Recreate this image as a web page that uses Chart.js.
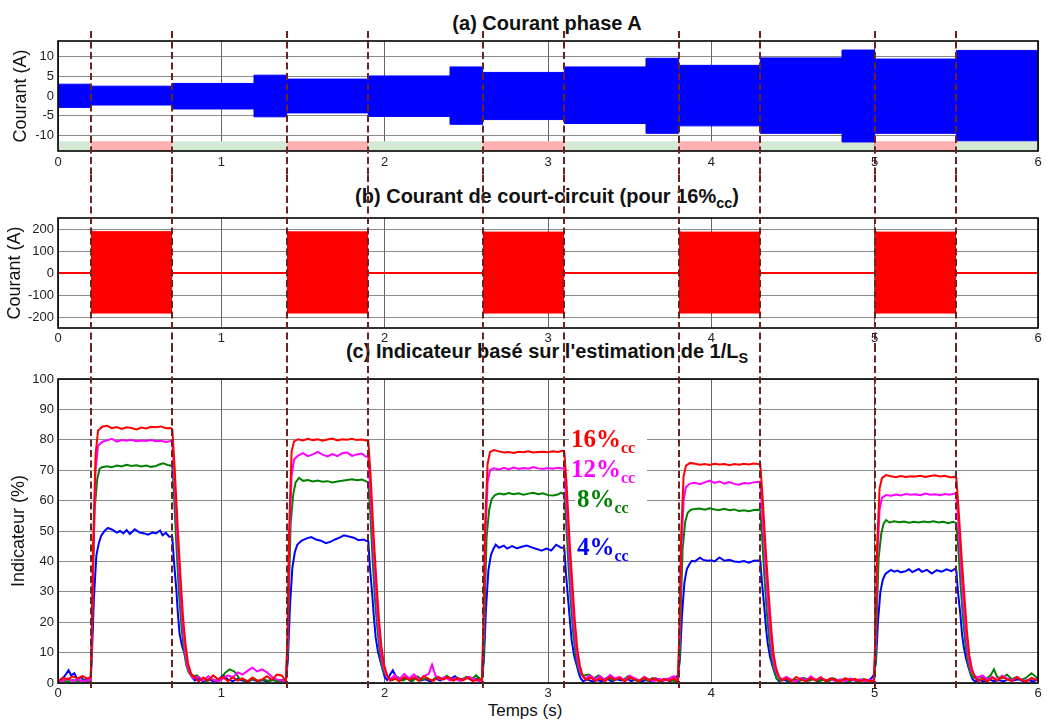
<!DOCTYPE html>
<html>
<head>
<meta charset="utf-8">
<title>Courant et indicateur de court-circuit</title>
<script src="https://cdn.jsdelivr.net/npm/chart.js@4.4.0/dist/chart.umd.min.js"></script>
<style>
  body { margin: 0; background: #fff; width: 1047px; height: 721px; position: relative; overflow: hidden; font-family: "Liberation Sans", Arial, sans-serif; }
  canvas { position: absolute; left: 0; z-index: 1; }
  .ptitle { position: absolute; left: 0; width: 1094px; text-align: center; font-weight: bold; font-size: 20px; line-height: 22px; color: #111; white-space: nowrap; z-index: 0; }
  .ptitle sub { font-size: 0.72em; line-height: 0; }
  .xtitle { position: absolute; left: 425px; width: 200px; top: 700px; text-align: center; font-size: 17px; line-height: 22px; color: #111; white-space: nowrap; z-index: 0; }
  .lbl { position: absolute; left: 569px; width: 76px; height: 30px; background: #fff; font-family: "Liberation Serif", "Times New Roman", serif; font-weight: bold; font-size: 25px; line-height: 30px; white-space: nowrap; z-index: 2; padding-left: 2px; }
  .lbl sub { font-size: 16px; line-height: 0; }
</style>
</head>
<body>
<div class="ptitle" style="top:12px">(a) Courant phase A</div>
<div class="ptitle" style="top:185px">(b) Courant de court-circuit (pour 16%<sub>cc</sub>)</div>
<div class="ptitle" style="top:340px">(c) Indicateur basé sur l'estimation de 1/L<sub>S</sub></div>
<div class="xtitle">Temps (s)</div>

<canvas id="chartA" width="1047" height="175" style="top:0px"></canvas>
<canvas id="chartB" width="1047" height="170" style="top:175px"></canvas>
<canvas id="chartC" width="1047" height="376" style="top:345px"></canvas>

<div class="lbl" style="top:424px; color:#ff0000">16%<sub>cc</sub></div>
<div class="lbl" style="top:454px; color:#ff00ff">12%<sub>cc</sub></div>
<div class="lbl" style="top:484px; color:#008000; left:575px; width:70px">8%<sub>cc</sub></div>
<div class="lbl" style="top:533px; color:#0000ff; left:575px; width:70px; height:28px; line-height:28px">4%<sub>cc</sub></div>

<script>
// intervalles de court-circuit (s)
const faultStart = [0.2, 1.4, 2.6, 3.8, 5.0];
const faultEnd = [0.7, 1.9, 3.1, 4.3, 5.5];

const xTicks = [0, 1, 2, 3, 4, 5, 6];
const ticksA = [-10, -5, 0, 5, 10];
const ticksB = [-200, -100, 0, 100, 200];
const ticksC = [0, 10, 20, 30, 40, 50, 60, 70, 80, 90, 100];

// (a) enveloppe du courant phase A par palier de charge
const phaseEdges = [0, 0.2, 0.7, 1.2, 1.4, 1.9, 2.4, 2.6, 3.1, 3.6, 3.8, 4.3, 4.8, 5.0, 5.5, 6.0];
const phaseHigh = [3.0, 2.5, 3.2, 5.3, 4.3, 5.1, 7.4, 6.0, 7.4, 9.6, 7.8, 9.7, 11.7, 9.4, 11.6];
const phaseLow = [-2.9, -2.3, -3.3, -5.3, -4.3, -5.2, -7.2, -6.0, -7.0, -9.5, -7.6, -9.5, -11.7, -9.5, -11.4];
const bandTop = -11.5;

// (b) enveloppe du courant de court-circuit
const scPeak = [204, 198, 196, 196, 196];
const scHigh = [188, 187, 186, 186, 186];
const scLow = [-182, -182, -182, -182, -182];

// (c) indicateur (%) : [temps, valeur]
const ind16 = [
  [0,0.5],[0.03,1.8],[0.06,1.2],[0.09,2.2],[0.12,1.5],[0.15,2.3],[0.18,1.4],[0.2,2.0],
  [0.205,10],[0.215,45],[0.23,75],[0.245,83],[0.27,84.3],
  [0.3,84.6],[0.33,83.8],[0.36,84.2],[0.39,83.6],[0.42,84.1],[0.45,83.9],[0.48,83.4],[0.51,84],[0.54,83.7],[0.57,84.3],[0.6,84.1],[0.63,84.4],[0.66,83.8],[0.69,83.9],[0.7,83.5],
  [0.714,71],[0.734,50],[0.75,35],[0.765,22],[0.78,13],[0.796,6.5],[0.815,3],[0.837,2],
  [0.86,0.5],[0.89,1.8],[0.92,0.8],[0.95,2.5],[0.98,1.2],[1.01,2.0],[1.04,0.6],[1.07,1.9],[1.1,0.8],[1.13,1.5],[1.16,0.5],[1.19,1.8],[1.22,0.7],[1.25,1.2],[1.28,2.2],[1.31,1.0],[1.34,2.8],[1.37,2.5],[1.395,0.5],
  [1.405,15],[1.415,50],[1.43,76],[1.445,79.5],[1.47,80.2],
  [1.5,79.8],[1.53,80.3],[1.56,79.9],[1.59,80.2],[1.62,79.7],[1.65,80.1],[1.68,80.4],[1.71,79.8],[1.74,80.2],[1.77,80],[1.8,80.3],[1.83,79.9],[1.86,80.1],[1.9,79.6],
  [1.914,68],[1.934,47],[1.95,33],[1.965,21],[1.98,12],[1.996,6],[2.015,2.5],[2.035,0.8],
  [2.06,1.5],[2.09,0.6],[2.12,2.0],[2.15,1.0],[2.18,1.8],[2.21,0.7],[2.24,2.3],[2.27,1.2],[2.3,0.8],[2.33,1.9],[2.36,1.1],[2.39,2.0],[2.42,0.7],[2.45,1.6],[2.48,0.9],[2.51,1.8],[2.54,0.6],[2.57,1.2],[2.595,0.8],
  [2.605,20],[2.615,52],[2.63,72],[2.645,76],[2.67,76.6],
  [2.7,76.2],[2.73,75.8],[2.76,76],[2.79,75.7],[2.82,76.1],[2.85,75.9],[2.88,76.2],[2.91,75.8],[2.94,76],[2.97,76.1],[3.0,75.9],[3.03,76.2],[3.06,76],[3.09,76.4],[3.1,76],
  [3.114,65],[3.134,45],[3.15,32],[3.165,20],[3.18,11],[3.196,5.5],[3.215,2],[3.235,1],
  [3.26,1.8],[3.29,0.7],[3.32,1.5],[3.35,0.6],[3.38,2.0],[3.41,1.0],[3.44,1.7],[3.47,0.5],[3.5,1.9],[3.53,1.2],[3.56,0.6],[3.59,1.8],[3.62,0.8],[3.65,1.5],[3.68,0.5],[3.71,1.4],[3.74,0.7],[3.77,1.6],[3.795,0.5],
  [3.805,18],[3.815,48],[3.83,68],[3.845,71.5],[3.87,72.4],
  [3.9,72.1],[3.93,71.8],[3.96,72],[3.99,71.7],[4.02,72.1],[4.05,71.9],[4.08,72],[4.11,71.6],[4.14,72],[4.17,71.8],[4.2,72.1],[4.23,71.9],[4.26,72.2],[4.29,72],[4.3,71.8],
  [4.314,61],[4.334,43],[4.35,30],[4.365,19],[4.38,10],[4.396,5],[4.415,2],[4.435,0.8],
  [4.46,1.6],[4.49,0.6],[4.52,2.0],[4.55,1.1],[4.58,0.5],[4.61,1.7],[4.64,0.8],[4.67,1.9],[4.7,0.6],[4.73,1.5],[4.76,1.0],[4.79,0.5],[4.82,1.6],[4.85,0.9],[4.88,1.4],[4.91,0.5],[4.94,1.2],[4.97,0.6],[4.995,0.8],
  [5.005,16],[5.015,45],[5.03,64],[5.045,67.5],[5.07,68.4],
  [5.1,68],[5.13,67.7],[5.16,68.1],[5.19,67.8],[5.22,68],[5.25,67.9],[5.28,68.2],[5.31,67.8],[5.34,68.1],[5.37,68.3],[5.4,67.9],[5.43,68.2],[5.46,67.7],[5.49,67.8],[5.5,67.5],
  [5.514,57],[5.534,40],[5.55,28],[5.565,17],[5.58,9],[5.596,4.5],[5.615,1.8],[5.635,0.6],
  [5.66,1.5],[5.69,0.5],[5.72,1.8],[5.75,0.8],[5.78,2.0],[5.81,1.2],[5.84,0.6],[5.87,1.9],[5.9,1.0],[5.93,0.5],[5.96,1.7],[6,0.8]
];

const ind12 = [
  [0,0.3],[0.03,0.8],[0.06,1.5],[0.09,0.6],[0.12,1.2],[0.15,0.5],[0.18,1.0],[0.2,0.8],
  [0.205,8],[0.215,40],[0.23,70],[0.245,78],[0.27,79.3],
  [0.3,79.8],[0.33,80.3],[0.36,79.4],[0.39,79.9],[0.42,79.7],[0.45,80],[0.48,79.5],[0.51,79.8],[0.54,79.6],[0.57,79.9],[0.6,79.5],[0.63,79.7],[0.66,79.3],[0.69,79.6],[0.7,79.4],
  [0.712,68],[0.73,48],[0.745,33],[0.76,21],[0.775,12],[0.79,6],[0.81,3],[0.83,1.5],
  [0.86,2.0],[0.89,0.8],[0.92,2.2],[0.95,1.0],[0.98,0.5],[1.01,1.5],[1.04,2.5],[1.07,1.8],[1.1,3.5],[1.13,2.8],[1.16,4.0],[1.19,5.0],[1.22,3.8],[1.25,4.5],[1.28,3.5],[1.31,2.0],[1.34,1.2],[1.37,0.8],[1.395,0.6],
  [1.405,12],[1.415,45],[1.43,68],[1.445,73.5],[1.47,74.8],
  [1.5,75.6],[1.53,74.6],[1.56,75.2],[1.59,76],[1.62,75.1],[1.65,74.5],[1.68,75.3],[1.71,74.6],[1.74,75.6],[1.77,75.8],[1.8,74.7],[1.83,75.2],[1.86,75.5],[1.88,74.6],[1.9,74.3],
  [1.912,64],[1.93,45],[1.945,31],[1.96,19],[1.975,11],[1.99,5.5],[2.01,2.5],[2.03,1.0],
  [2.06,2.5],[2.09,1.2],[2.12,3.0],[2.15,1.5],[2.18,2.8],[2.21,1.0],[2.24,2.2],[2.27,3.0],[2.29,6.0],[2.31,2.5],[2.34,1.2],[2.37,2.0],[2.4,0.8],[2.43,1.6],[2.46,0.7],[2.49,1.4],[2.52,2.0],[2.55,1.0],[2.595,0.5],
  [2.605,15],[2.615,46],[2.63,66],[2.645,70],[2.67,70.6],
  [2.7,70.2],[2.73,70.8],[2.76,70.3],[2.79,70.9],[2.82,70.4],[2.85,70.7],[2.88,70.5],[2.91,71],[2.94,70.6],[2.97,70.4],[3.0,70.7],[3.03,70.5],[3.06,70.8],[3.09,70.6],[3.1,70.4],
  [3.112,60],[3.13,42],[3.145,29],[3.16,18],[3.175,10],[3.19,5],[3.21,2.5],[3.23,1.5],
  [3.26,2.5],[3.29,1.2],[3.32,2.2],[3.35,1.0],[3.38,2.6],[3.41,1.5],[3.44,2.0],[3.47,0.8],[3.5,2.4],[3.53,1.6],[3.56,0.8],[3.59,2.0],[3.62,1.2],[3.65,0.6],[3.68,1.4],[3.71,0.8],[3.74,1.5],[3.77,2.2],[3.795,0.6],
  [3.805,14],[3.815,42],[3.83,60],[3.845,64.5],[3.87,65.6],
  [3.9,65.9],[3.93,65.4],[3.96,66],[3.99,66.6],[4.02,65.8],[4.05,66.3],[4.08,65.6],[4.11,66.1],[4.14,65.5],[4.17,65.2],[4.2,65.8],[4.23,65.6],[4.26,66],[4.29,66.2],[4.3,66],
  [4.312,56],[4.33,40],[4.345,27],[4.36,17],[4.375,9],[4.39,4.5],[4.41,2.2],[4.43,1.2],
  [4.46,2.0],[4.49,1.0],[4.52,0.6],[4.55,1.6],[4.58,0.8],[4.61,2.2],[4.64,1.0],[4.67,1.8],[4.7,0.8],[4.73,1.4],[4.76,0.6],[4.79,1.2],[4.82,0.5],[4.85,1.5],[4.88,0.8],[4.91,1.2],[4.94,0.5],[4.97,1.0],[4.995,0.6],
  [5.005,12],[5.015,40],[5.03,57],[5.045,61],[5.07,61.8],
  [5.1,61.6],[5.13,62],[5.16,61.7],[5.19,62.2],[5.22,61.9],[5.25,62.1],[5.28,61.8],[5.31,62.3],[5.34,61.9],[5.37,62.1],[5.4,61.8],[5.43,62.2],[5.46,61.9],[5.49,62.3],[5.5,62],
  [5.512,53],[5.53,37],[5.545,25],[5.56,15],[5.575,8],[5.59,4],[5.61,2.5],[5.63,1.8],
  [5.66,2.5],[5.69,1.2],[5.72,2.0],[5.75,1.0],[5.78,2.4],[5.81,1.5],[5.84,0.8],[5.87,1.9],[5.9,1.0],[5.93,0.6],[5.96,1.5],[6,1.0]
];

const ind8 = [
  [0,0.4],[0.03,0.8],[0.06,0.5],[0.09,1.0],[0.12,0.6],[0.15,0.9],[0.18,0.5],[0.2,0.7],
  [0.207,10],[0.215,35],[0.224,57],[0.24,67],[0.255,70.5],[0.27,71],
  [0.3,71.3],[0.33,71],[0.36,71.5],[0.39,71.2],[0.42,71.8],[0.45,71.4],[0.48,71.6],[0.51,71.2],[0.54,71.5],[0.57,71.1],[0.6,71.4],[0.62,71.9],[0.645,72.3],[0.67,71.7],[0.7,71.4],
  [0.71,62],[0.725,45],[0.74,30],[0.755,19],[0.77,11],[0.785,6],[0.8,3.5],[0.82,2],
  [0.85,2.5],[0.88,1.2],[0.91,0.6],[0.94,1.4],[0.97,0.5],[1.0,1.0],[1.02,3.2],[1.05,4.5],[1.08,3.8],[1.11,1.5],[1.14,1.0],[1.17,0.6],[1.2,1.5],[1.23,0.5],[1.26,1.2],[1.29,0.6],[1.32,1.0],[1.35,0.5],[1.395,0.8],
  [1.407,10],[1.415,32],[1.424,52],[1.44,62],[1.455,66],[1.475,67.5],
  [1.5,66.5],[1.53,66.8],[1.56,66.3],[1.59,66.6],[1.62,66.2],[1.65,66.4],[1.68,66],[1.71,66.3],[1.74,66.5],[1.77,66.8],[1.8,67],[1.83,66.7],[1.86,66.9],[1.88,66.5],[1.9,66],
  [1.91,58],[1.925,42],[1.94,28],[1.955,18],[1.97,10],[1.985,5],[2.0,3],[2.02,2],
  [2.05,1.0],[2.08,2.0],[2.11,0.8],[2.14,1.5],[2.17,0.6],[2.2,2.2],[2.23,1.0],[2.26,1.6],[2.29,0.8],[2.32,2.0],[2.35,1.2],[2.38,2.4],[2.41,1.0],[2.44,1.8],[2.47,0.8],[2.5,2.0],[2.53,1.2],[2.56,2.5],[2.595,0.8],
  [2.607,9],[2.615,30],[2.624,48],[2.64,57],[2.655,60.5],[2.675,61.8],
  [2.7,62.3],[2.73,62],[2.76,62.5],[2.79,62.1],[2.82,62.4],[2.85,61.9],[2.88,62.3],[2.91,62.6],[2.94,62.1],[2.97,62.4],[3.0,61.8],[3.03,61.7],[3.06,62],[3.08,62.6],[3.1,62],
  [3.11,54],[3.125,39],[3.14,26],[3.155,16],[3.17,9],[3.185,5],[3.2,3],[3.22,2.5],
  [3.25,2.8],[3.28,1.5],[3.31,2.5],[3.34,1.2],[3.37,2.0],[3.4,0.8],[3.43,1.8],[3.46,1.0],[3.49,2.2],[3.52,1.2],[3.55,0.6],[3.58,1.5],[3.61,0.8],[3.64,1.6],[3.67,1.0],[3.7,0.6],[3.73,1.4],[3.76,0.8],[3.795,0.5],
  [3.807,9],[3.815,28],[3.824,44],[3.84,53],[3.855,56],[3.875,57],
  [3.9,57.2],[3.93,57.4],[3.96,57],[3.99,57.5],[4.02,57.1],[4.05,56.9],[4.08,57.3],[4.11,56.8],[4.14,57.1],[4.17,56.6],[4.2,56.8],[4.23,56.5],[4.26,56.9],[4.29,57],[4.3,56.7],
  [4.31,49],[4.325,35],[4.34,23],[4.355,14],[4.37,8],[4.385,4],[4.4,1.5],[4.42,0.8],
  [4.45,1.5],[4.48,0.5],[4.51,1.2],[4.54,0.6],[4.57,1.6],[4.6,0.8],[4.63,1.4],[4.66,0.5],[4.69,1.2],[4.72,0.6],[4.75,1.5],[4.78,0.8],[4.81,1.2],[4.84,0.5],[4.87,1.0],[4.9,0.6],[4.93,1.3],[4.96,0.7],[4.995,0.5],
  [5.007,8],[5.015,26],[5.024,41],[5.04,49],[5.055,52.5],[5.07,53.6],
  [5.09,52.8],[5.12,53.2],[5.15,52.9],[5.18,53.1],[5.21,52.7],[5.24,53],[5.27,52.8],[5.3,53.1],[5.33,52.9],[5.36,53.2],[5.39,52.8],[5.42,53],[5.45,52.6],[5.48,53],[5.5,52.6],
  [5.51,46],[5.525,33],[5.54,22],[5.555,13],[5.57,7],[5.585,3.5],[5.6,2],[5.62,1.5],
  [5.65,2.0],[5.68,1.2],[5.71,2.5],[5.73,4.5],[5.75,2.0],[5.78,1.5],[5.81,2.8],[5.84,1.2],[5.87,2.0],[5.9,1.0],[5.93,1.8],[5.96,3.2],[6,1.5]
];

const ind4 = [
  [0,0.5],[0.03,1.5],[0.05,3.0],[0.065,4.2],[0.08,2.5],[0.1,3.2],[0.12,1.0],[0.14,2.0],[0.16,0.8],[0.18,1.5],[0.2,1.0],
  [0.208,10],[0.22,28],[0.235,42],[0.25,46],[0.265,48.5],[0.285,50],[0.306,51],
  [0.33,50.5],[0.36,49.5],[0.38,50],[0.4,49.2],[0.42,50.3],[0.44,49],[0.47,50.6],[0.5,49.5],[0.53,49.2],[0.55,48.8],[0.58,49.5],[0.6,49.2],[0.625,50.2],[0.64,48.6],[0.66,49.4],[0.68,48.2],[0.7,48],
  [0.71,40],[0.724,31],[0.735,22],[0.745,16],[0.76,12],[0.776,9.5],[0.79,6],[0.806,4],[0.82,2],[0.837,0.8],
  [0.86,1.5],[0.89,0.5],[0.92,1.2],[0.95,0.6],[0.98,1.0],[1.01,2.5],[1.04,1.2],[1.07,0.6],[1.1,1.4],[1.13,0.8],[1.16,0.5],[1.19,1.2],[1.22,0.6],[1.25,1.0],[1.28,0.5],[1.31,1.2],[1.34,0.6],[1.37,1.0],[1.395,0.6],
  [1.408,8],[1.42,25],[1.435,38],[1.45,43],[1.465,45.5],[1.49,46.8],
  [1.52,47.5],[1.55,48],[1.58,47.2],[1.61,46.8],[1.64,46],[1.67,46.5],[1.7,47.3],[1.73,48],[1.75,48.6],[1.78,48.2],[1.81,47.8],[1.84,47],[1.87,47.2],[1.9,46.5],
  [1.91,38],[1.924,29],[1.935,21],[1.945,15],[1.96,10],[1.975,7],[1.99,4],[2.0,2],[2.015,1],
  [2.03,2.5],[2.05,4.2],[2.07,2.0],[2.1,1.0],[2.13,1.8],[2.16,0.6],[2.19,1.5],[2.22,0.8],[2.25,1.2],[2.28,0.5],[2.31,1.5],[2.34,0.8],[2.37,2.0],[2.4,1.2],[2.43,2.2],[2.46,1.0],[2.5,1.8],[2.54,0.8],[2.57,1.6],[2.595,1.2],
  [2.608,8],[2.62,24],[2.635,37],[2.65,42],[2.665,44],[2.68,45.5],
  [2.7,44.5],[2.73,45.2],[2.75,44.2],[2.78,45],[2.81,44.3],[2.84,44.8],[2.87,45.2],[2.9,44.6],[2.93,44.1],[2.96,43.5],[2.99,44.2],[3.02,43.6],[3.05,45.5],[3.08,44.5],[3.1,44.5],
  [3.11,36],[3.124,27],[3.135,20],[3.145,14],[3.16,9],[3.175,6],[3.19,3],[3.2,1.5],[3.215,0.6],
  [3.24,1.2],[3.27,0.5],[3.3,1.0],[3.33,0.6],[3.36,1.4],[3.39,0.5],[3.42,1.2],[3.45,0.8],[3.48,1.5],[3.51,0.6],[3.54,1.2],[3.57,0.5],[3.6,1.0],[3.63,0.6],[3.66,1.5],[3.69,0.8],[3.72,1.2],[3.75,0.6],[3.78,1.8],[3.795,2.5],
  [3.808,8],[3.82,22],[3.835,33],[3.85,37.5],[3.865,39],[3.88,40.2],
  [3.9,40],[3.93,41.2],[3.95,40.5],[3.98,40.2],[4.0,40.4],[4.02,40],[4.05,41.3],[4.08,40.2],[4.11,40.5],[4.14,40],[4.17,39.8],[4.2,40.1],[4.23,39.6],[4.26,40.2],[4.29,40.3],[4.3,40.1],
  [4.31,33],[4.324,25],[4.335,18],[4.345,13],[4.36,8.5],[4.375,5.5],[4.39,3],[4.4,1.5],[4.415,0.6],
  [4.44,1.2],[4.47,0.5],[4.5,1.0],[4.53,0.6],[4.56,1.6],[4.59,0.8],[4.62,1.4],[4.65,0.5],[4.68,1.2],[4.71,0.6],[4.74,1.5],[4.77,0.8],[4.8,1.0],[4.83,0.5],[4.86,1.3],[4.89,0.6],[4.92,1.0],[4.95,0.5],[4.98,1.5],[4.995,2.8],
  [5.008,7],[5.02,20],[5.035,30],[5.05,34],[5.065,35.8],[5.08,36.5],
  [5.1,37.2],[5.12,36.6],[5.14,37],[5.16,36.4],[5.19,36.8],[5.21,37.4],[5.23,36.5],[5.25,37],[5.27,37.5],[5.29,36.6],[5.32,37.2],[5.35,36],[5.38,37.1],[5.41,36.6],[5.44,37.4],[5.47,36.8],[5.49,37.5],[5.5,37],
  [5.51,30],[5.524,23],[5.535,16],[5.545,12],[5.56,8],[5.575,5],[5.59,2.5],[5.6,1.2],[5.615,0.5],
  [5.64,1.0],[5.67,0.5],[5.7,1.2],[5.73,0.6],[5.76,1.0],[5.79,0.5],[5.82,1.4],[5.85,0.8],[5.88,1.2],[5.91,0.6],[5.94,1.0],[5.97,0.5],[6,1.2]
];

const fontFamily = '"Liberation Sans", Arial, sans-serif';
const faultEdges = faultStart.flatMap((s, i) => [s, faultEnd[i]]);

function toXY(pairs) {
  return pairs.map(([x, y]) => ({ x, y }));
}

function stepPoints(edges, values) {
  const points = values.map((v, i) => ({ x: edges[i], y: v }));
  points.push({ x: edges[edges.length - 1], y: values[values.length - 1] });
  return points;
}

function bandPoints(intervals) {
  const points = [];
  intervals.forEach(([s, e]) => {
    points.push({ x: s, y: bandTop }, { x: e, y: bandTop }, { x: e, y: null });
  });
  return points;
}

// cadre noir autour de la zone de tracé
const frameBox = {
  id: "frameBox",
  afterDraw(chart) {
    const { ctx, chartArea: a } = chart;
    ctx.save();
    ctx.strokeStyle = "#000";
    ctx.lineWidth = 1.6;
    ctx.strokeRect(a.left, a.top, a.right - a.left, a.bottom - a.top);
    ctx.restore();
  }
};

// traits pointillés aux instants de début / fin de défaut
const faultLines = {
  id: "faultLines",
  afterDraw(chart, args, opts) {
    const { ctx } = chart;
    const x = chart.scales.x;
    ctx.save();
    ctx.strokeStyle = "#6b2222";
    ctx.lineWidth = 2;
    ctx.setLineDash([7, 3.5]);
    faultEdges.forEach((t) => {
      const px = Math.round(x.getPixelForValue(t));
      ctx.beginPath();
      ctx.moveTo(px, opts.y0);
      ctx.lineTo(px, opts.y1);
      ctx.stroke();
    });
    ctx.restore();
  }
};

function buildOptions(cfg) {
  return {
    responsive: false,
    animation: false,
    events: [],
    layout: { padding: { top: cfg.padTop, right: 9, left: 0, bottom: 0 } },
    plugins: {
      legend: { display: false },
      tooltip: { enabled: false },
      faultLines: { y0: cfg.dashY0, y1: cfg.dashY1 }
    },
    scales: {
      x: {
        type: "linear",
        min: 0,
        max: 6,
        afterBuildTicks: (s) => { s.ticks = xTicks.map((v) => ({ value: v })); },
        afterFit: (s) => { s.height = cfg.xHeight; },
        ticks: { padding: cfg.xTickPad, maxRotation: 0, color: "#222", font: { family: fontFamily, size: 13 } },
        grid: { color: "#666", lineWidth: 1, drawTicks: false },
        border: { display: false }
      },
      y: {
        min: cfg.yMin,
        max: cfg.yMax,
        afterBuildTicks: (s) => { s.ticks = cfg.yTicks.map((v) => ({ value: v })); },
        afterFit: (s) => { s.width = 58; },
        ticks: { padding: 4, color: "#222", font: { family: fontFamily, size: 13 } },
        grid: { color: "rgba(110,110,110,0.8)", lineWidth: 1, drawTicks: false },
        border: { display: false },
        title: { display: true, text: cfg.yTitle, color: "#111", font: { family: fontFamily, size: 18 }, padding: { top: cfg.yTitlePad, bottom: 0 } }
      }
    }
  };
}

// (a) courant phase A
const healthyIntervals = [[0, 0.2], [0.7, 1.4], [1.9, 2.6], [3.1, 3.8], [4.3, 5.0], [5.5, 6.0]];
const faultIntervals = faultStart.map((s, i) => [s, faultEnd[i]]);

new Chart(document.getElementById("chartA"), {
  type: "line",
  data: {
    datasets: [
      { data: stepPoints(phaseEdges, phaseHigh), stepped: true, borderColor: "#0000ff", borderWidth: 1, pointRadius: 0, fill: false },
      { data: stepPoints(phaseEdges, phaseLow), stepped: true, borderColor: "#0000ff", borderWidth: 1, pointRadius: 0, fill: "-1", backgroundColor: "#0000ff" },
      { data: bandPoints(faultIntervals), borderWidth: 0, pointRadius: 0, fill: "start", backgroundColor: "#ffb0b0", spanGaps: false },
      { data: bandPoints(healthyIntervals), borderWidth: 0, pointRadius: 0, fill: "start", backgroundColor: "#d4e9d4", spanGaps: false }
    ]
  },
  options: buildOptions({ padTop: 41, xHeight: 24, xTickPad: 4, yMin: -14, yMax: 14, yTicks: ticksA, yTitle: "Courant (A)", yTitlePad: 10, dashY0: 31, dashY1: 175 }),
  plugins: [frameBox, faultLines]
});

// (b) courant de court-circuit
const scUpper = [];
const scLower = [];
faultStart.forEach((s, i) => {
  scUpper.push({ x: s, y: scPeak[i] }, { x: s + 0.012, y: scHigh[i] }, { x: faultEnd[i], y: scHigh[i] }, { x: faultEnd[i], y: null });
  scLower.push({ x: s, y: scLow[i] }, { x: faultEnd[i], y: scLow[i] }, { x: faultEnd[i], y: null });
});

new Chart(document.getElementById("chartB"), {
  type: "line",
  data: {
    datasets: [
      { data: scUpper, borderColor: "#ff0000", borderWidth: 1, pointRadius: 0, fill: false, spanGaps: false },
      { data: scLower, borderColor: "#ff0000", borderWidth: 1, pointRadius: 0, fill: "-1", backgroundColor: "#ff0000", spanGaps: false },
      { data: [{ x: 0, y: 0 }, { x: 6, y: 0 }], borderColor: "#ff0000", borderWidth: 2, pointRadius: 0, fill: false }
    ]
  },
  options: buildOptions({ padTop: 43, xHeight: 17, xTickPad: 3, yMin: -250, yMax: 250, yTicks: ticksB, yTitle: "Courant (A)", yTitlePad: 4, dashY0: 0, dashY1: 170 }),
  plugins: [frameBox, faultLines]
});

// (c) indicateur
new Chart(document.getElementById("chartC"), {
  type: "line",
  data: {
    datasets: [
      { label: "16%cc", data: toXY(ind16), borderColor: "#ff0000", borderWidth: 2, pointRadius: 0, fill: false },
      { label: "12%cc", data: toXY(ind12), borderColor: "#ff00ff", borderWidth: 2, pointRadius: 0, fill: false },
      { label: "8%cc", data: toXY(ind8), borderColor: "#008000", borderWidth: 2, pointRadius: 0, fill: false },
      { label: "4%cc", data: toXY(ind4), borderColor: "#0000ff", borderWidth: 2, pointRadius: 0, fill: false }
    ]
  },
  options: buildOptions({ padTop: 34, xHeight: 38, xTickPad: 3, yMin: 0, yMax: 100, yTicks: ticksC, yTitle: "Indicateur (%)", yTitlePad: 8, dashY0: 0, dashY1: 345 }),
  plugins: [frameBox, faultLines]
});
</script>
</body>
</html>
